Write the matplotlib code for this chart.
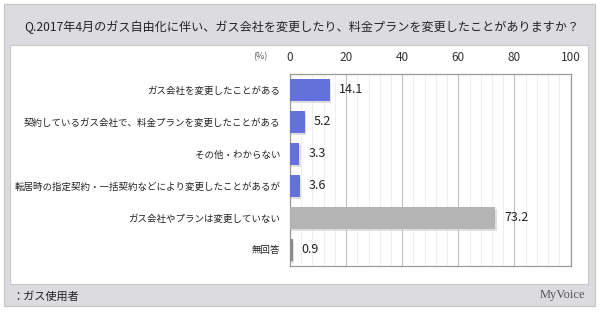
import matplotlib
matplotlib.use('Agg')
import matplotlib.pyplot as plt
import matplotlib.patheffects as pe
from matplotlib.patches import Rectangle

plt.rcParams['font.family'] = ['Noto Sans CJK JP', 'DejaVu Sans']

title = 'Q.2017年4月のガス自由化に伴い、ガス会社を変更したり、料金プランを変更したことがありますか？'
categories = ['ガス会社を変更したことがある',
              '契約しているガス会社で、料金プランを変更したことがある',
              'その他・わからない',
              '転居時の指定契約・一括契約などにより変更したことがあるが',
              'ガス会社やプランは変更していない',
              '無回答']
values = [14.1, 5.2, 3.3, 3.6, 73.2, 0.9]
bar_colors = ['#6470dc', '#6470dc', '#6470dc', '#6470dc', '#b4b4b4', '#8c8c8c']
note = '：ガス使用者'

W, H = 600, 312
fig = plt.figure(figsize=(6, 3.12), dpi=100)
fig.patch.set_facecolor('white')


def px_rect(x0, y0, x1, y1, **kw):
    # rectangle in pixel coords (top-left origin)
    r = Rectangle((x0 / W, 1 - y1 / H), (x1 - x0) / W, (y1 - y0) / H,
                  transform=fig.transFigure, zorder=-10, **kw)
    fig.patches.append(r)


# outer gray frame and inner white panel
px_rect(4, 4, 595, 306, facecolor='#dcdbdf', edgecolor='#c4c4c4', lw=0.8)
px_rect(10, 45, 588, 284, facecolor='white', edgecolor='#c8c8c8', lw=0.8)

fig.text(24 / W, 1 - 27 / H, title, fontsize=8.7, va='center', ha='left', color='#222222')
fig.text(12 / W, 1 - 296 / H, note, fontsize=8, va='center', ha='left', color='#222222')
fig.text(585 / W, 1 - 295 / H, 'MyVoice', fontsize=9, va='center', ha='right',
         color='#555555', family='Liberation Serif')

ax = fig.add_axes([290 / W, 1 - 266 / H, 280.5 / W, 192 / H])
ax.set_facecolor('none')
y = list(range(len(categories)))
bars = ax.barh(y, values, height=0.68, color=bar_colors, zorder=3)
for b in bars:
    b.set_path_effects([pe.SimplePatchShadow(offset=(1, -1.5), shadow_rgbFace='#c0c0c0', alpha=0.5),
                        pe.Normal()])
for yi, v in zip(y, values):
    ax.text(v + 3.2, yi, f'{v:.1f}', va='center', ha='left', fontsize=9, color='#222222', zorder=4)

ax.set_xlim(0, 100)
ax.set_ylim(len(categories) - 0.5, -0.5)
ax.set_xticks([0, 20, 40, 60, 80, 100])
ax.set_xticks([x for x in range(4, 100, 4) if x % 20 != 0], minor=True)
ax.grid(axis='x', which='major', color='#c0c0c0', lw=0.8, zorder=1)
ax.grid(axis='x', which='minor', color='#ededed', lw=0.6, zorder=1)
ax.xaxis.tick_top()
ax.tick_params(axis='x', which='both', length=0, labelsize=8.5, pad=7, labelcolor='#333333')
ax.set_yticks(y)
ax.set_yticklabels(categories, fontsize=6.8, color='#222222')
ax.tick_params(axis='y', length=0, pad=7)
for s in ax.spines.values():
    s.set_color('#9a9a9a')
    s.set_linewidth(0.9)

fig.text(268 / W, 1 - 57 / H, '(%)', fontsize=6.5, va='center', ha='right', color='#555555')

fig.savefig('out.png', dpi=100)
